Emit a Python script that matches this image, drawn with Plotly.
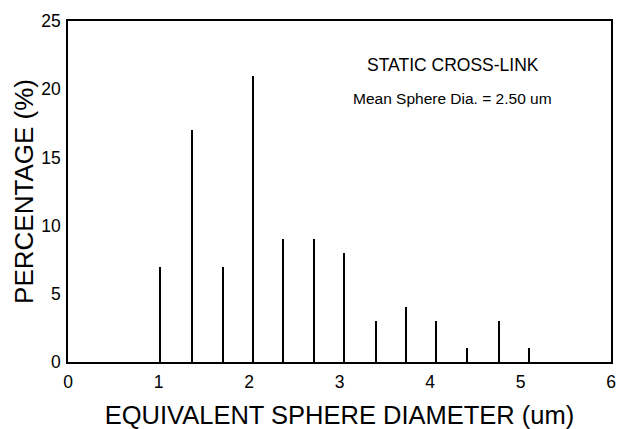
import plotly.graph_objects as go

diameters = [1.02, 1.37, 1.71, 2.04, 2.38, 2.72, 3.05, 3.40, 3.74, 4.07, 4.41, 4.76, 5.09]
percentages = [7, 17, 7, 21, 9, 9, 8, 3, 4, 3, 1, 3, 1]
x_ticks = [0, 1, 2, 3, 4, 5, 6]
y_ticks = [0, 5, 10, 15, 20, 25]

FONT = "Liberation Sans, Arial, Helvetica, sans-serif"

fig = go.Figure()
fig.add_trace(go.Bar(
    x=diameters, y=percentages, width=0.013,
    marker=dict(color="black", line=dict(width=0)),
    showlegend=False, hoverinfo="x+y",
))

fig.add_annotation(x=4.25, y=21.75, xref="x", yref="y", text="STATIC CROSS-LINK",
                   showarrow=False, font=dict(family=FONT, size=17.5, color="black"))
fig.add_annotation(x=4.25, y=19.35, xref="x", yref="y", text="Mean Sphere Dia. = 2.50 um",
                   showarrow=False, font=dict(family=FONT, size=15.5, color="black"))

fig.update_layout(
    width=618, height=429,
    margin=dict(l=68, r=7, t=21, b=67),
    paper_bgcolor="white", plot_bgcolor="white",
    font=dict(family=FONT, color="black"),
    bargap=0,
)
fig.update_xaxes(
    range=[0, 6], tickvals=x_ticks, ticktext=[str(v) for v in x_ticks],
    showgrid=False, zeroline=False, showline=True, mirror=True,
    linecolor="black", linewidth=1.5, ticks="", automargin=False,
    tickfont=dict(family=FONT, size=17.5, color="black"),
    ticklabelstandoff=3,
    title=dict(text="EQUIVALENT SPHERE DIAMETER (um)",
               font=dict(family=FONT, size=25.5, color="black"), standoff=17),
)
fig.update_yaxes(
    range=[0, 25], tickvals=y_ticks, ticktext=[str(v) for v in y_ticks],
    showgrid=False, zeroline=False, showline=True, mirror=True,
    linecolor="black", linewidth=1.5, ticks="", automargin=False,
    tickfont=dict(family=FONT, size=17.5, color="black"),
    ticklabelstandoff=2,
    title=dict(text="PERCENTAGE (%)",
               font=dict(family=FONT, size=26, color="black"), standoff=0),
)

fig.write_html("out.html")
